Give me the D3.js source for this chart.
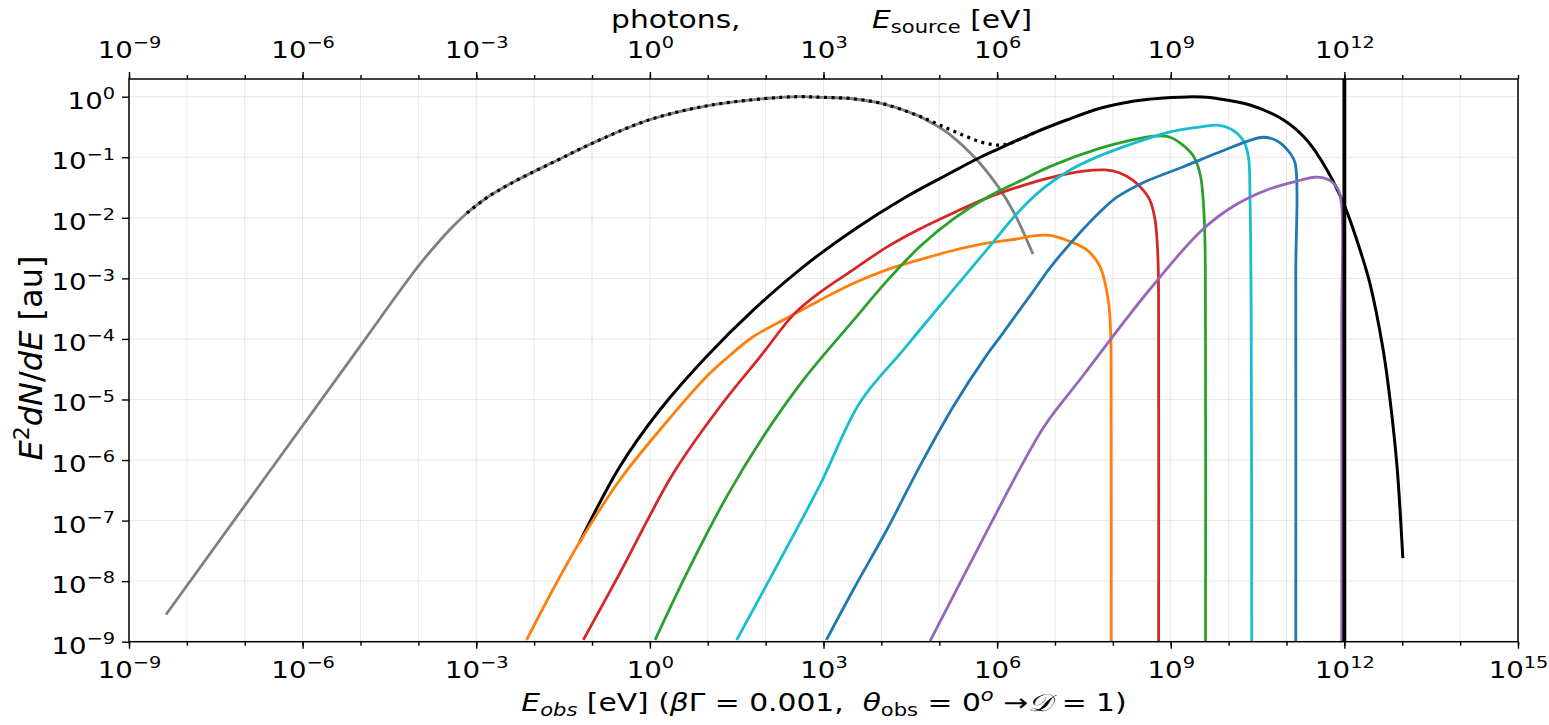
<!DOCTYPE html>
<html>
<head>
<meta charset="utf-8">
<script src="https://cdn.jsdelivr.net/npm/d3@7"></script>
<style>
  body { margin: 0; background: #fff; }
  text { font-family: "DejaVu Sans", sans-serif; fill: #000; }
</style>
</head>
<body>
<svg id="chart" width="1549" height="725"></svg>
<script>
// every point is [log10 E (eV), log10 E^2 dN/dE (au)]

// photons at the source (grey) and their sum with the cascade (black dotted)
const photonsSource = [[-8.36,-8.55],[-5.0,-4.11],[-4.3,-3.18],[-3.97,-2.76],[-3.67,-2.42],[-3.40,-2.14],
  [-3.16,-1.92],[-2.88,-1.71],[-2.62,-1.55],[-2.24,-1.35],[-1.6,-1.05],[-1.02,-0.78],[-0.02,-0.385],
  [0.99,-0.15],[2.0,-0.03],[2.57,0.0],[2.97,-0.01],[3.46,-0.03],[4.0,-0.11],[4.6,-0.30],[4.9,-0.45],
  [5.19,-0.63],[5.61,-1.0],[6.02,-1.49],[6.30,-1.93],[6.62,-2.60]];
const photonsTotal = [[-3.16,-1.92],[-2.88,-1.71],[-2.62,-1.55],[-2.24,-1.35],[-1.6,-1.05],[-1.02,-0.78],
  [-0.02,-0.385],[0.99,-0.15],[2.0,-0.03],[2.57,0.0],[2.97,-0.01],[3.46,-0.03],[4.0,-0.11],[4.6,-0.30],
  [4.9,-0.42],[5.18,-0.54],[5.45,-0.65],[5.73,-0.75],[6.0,-0.80],[6.2,-0.78],[6.35,-0.72],[6.48,-0.67],
  [6.63,-0.60]];
// total cascade
const cascadeTotal = [[-1.21,-7.35],[-0.52,-6.11],[0.175,-5.17],[0.98,-4.29],[1.79,-3.52],[2.65,-2.81],
  [3.52,-2.20],[4.38,-1.68],[5.19,-1.26],[5.71,-1.0],[6.05,-0.85],[6.63,-0.60],[7.20,-0.385],[7.78,-0.19],
  [8.35,-0.075],[8.64,-0.04],[9.01,-0.012],[9.28,-0.003],[9.55,-0.006],[9.80,-0.03],[10.37,-0.137],
  [10.95,-0.385],[11.35,-0.715],[11.70,-1.21],[12.01,-1.82],[12.27,-2.53],[12.44,-3.08],[12.67,-4.18],
  [12.79,-5.01],[12.91,-6.11],[13.01,-7.62]];
// cascade generations
const genOrange = [[-2.13,-8.97],[-1.67,-8.13],[-1.21,-7.35],[-0.52,-6.33],[0.175,-5.50],[0.98,-4.62],
  [1.385,-4.27],[1.79,-3.96],[2.36,-3.66],[2.94,-3.36],[3.52,-3.08],[4.09,-2.86],[4.67,-2.69],[5.24,-2.54],
  [5.82,-2.42],[6.40,-2.34],[6.62,-2.30],[6.91,-2.29],[7.20,-2.37],[7.55,-2.53],[7.78,-2.81],[7.92,-3.36],
  [7.96,-3.85],[7.97,-5.22],[7.97,-9.5]];
const genRed = [[-1.15,-8.97],[-0.52,-7.87],[0.405,-6.22],[1.21,-5.12],[1.90,-4.30],[2.51,-3.57],
  [2.94,-3.23],[3.51,-2.86],[4.10,-2.48],[4.67,-2.18],[5.24,-1.92],[5.83,-1.67],[6.40,-1.48],[6.91,-1.34],
  [7.49,-1.23],[7.87,-1.21],[8.12,-1.26],[8.35,-1.38],[8.52,-1.54],[8.64,-1.71],[8.73,-2.04],[8.78,-2.70],
  [8.79,-3.69],[8.79,-9.5]];
const genGreen = [[0.09,-8.97],[0.637,-7.87],[1.33,-6.60],[1.96,-5.61],[2.65,-4.68],[3.52,-3.69],
  [4.09,-3.05],[4.67,-2.47],[5.24,-2.02],[5.83,-1.66],[6.40,-1.39],[6.92,-1.15],[7.78,-0.85],[8.30,-0.72],
  [8.73,-0.65],[8.99,-0.67],[9.21,-0.80],[9.39,-0.98],[9.51,-1.29],[9.58,-2.04],[9.60,-3.69],[9.60,-9.5]];
const genCyan = [[1.50,-8.97],[2.08,-7.95],[2.94,-6.41],[3.63,-5.05],[4.38,-4.18],[5.24,-3.19],
  [5.82,-2.53],[6.40,-1.87],[6.83,-1.49],[7.26,-1.21],[7.69,-1.01],[8.12,-0.85],[8.64,-0.68],[8.99,-0.58],
  [9.51,-0.50],[9.80,-0.47],[10.03,-0.53],[10.25,-0.72],[10.34,-0.98],[10.37,-1.71],[10.39,-3.69],
  [10.40,-9.5]];
const genBlue = [[3.05,-8.97],[3.51,-8.15],[4.09,-7.16],[4.66,-6.11],[5.24,-5.12],[5.81,-4.28],[6.05,-3.97],
  [6.39,-3.52],[6.62,-3.22],[6.91,-2.83],[7.38,-2.30],[7.78,-1.90],[8.07,-1.66],[8.52,-1.42],[9.21,-1.16],
  [9.80,-0.93],[10.37,-0.72],[10.60,-0.67],[10.84,-0.73],[11.06,-0.93],[11.15,-1.10],[11.16,-3.0],
  [11.16,-9.5]];
const genPurple = [[4.84,-8.99],[5.36,-8.03],[5.88,-7.07],[6.40,-6.13],[6.83,-5.42],[7.49,-4.60],
  [8.07,-3.87],[8.64,-3.18],[9.51,-2.23],[10.08,-1.81],[10.66,-1.54],[11.24,-1.38],[11.49,-1.33],
  [11.70,-1.36],[11.88,-1.51],[11.95,-1.76],[11.955,-3.69],[11.955,-9.5]];

const generations = [genOrange, genRed, genGreen, genCyan, genBlue, genPurple];
const generationColors = ["#ff7f0e", "#d62728", "#2ca02c", "#17becf", "#1f77b4", "#9467bd"];

const cutoffEnergy = 1e12;              // vertical line
const xMajor = [-9, -6, -3, 0, 3, 6, 9, 12, 15];
const xMajorTop = [-9, -6, -3, 0, 3, 6, 9, 12];
const xMinor = d3.range(-9, 16);
const yMajor = d3.range(-9, 1);

const svg = d3.select("#chart");
const pL = 129, pR = 1518, pT = 79, pB = 641.7;
const sx = 1.2;                         // the figure is a bit wider than tall

const x = d3.scaleLog().domain([1e-9, 1e15]).range([pL, pR]);
const y = d3.scaleLog().domain([1e-9, 1.96]).range([pB, pT]);

const toVal = s => s.map(d => [Math.pow(10, d[0]), Math.pow(10, d[1])]);

// grid
const grid = svg.append("g").attr("stroke", "#b0b0b0").attr("stroke-opacity", 0.3).attr("stroke-width", 1);
grid.selectAll(".gx").data(xMinor).join("line")
  .attr("x1", d => x(Math.pow(10, d))).attr("x2", d => x(Math.pow(10, d)))
  .attr("y1", pT).attr("y2", pB);
grid.selectAll(".gy").data(yMajor).join("line")
  .attr("y1", d => y(Math.pow(10, d))).attr("y2", d => y(Math.pow(10, d)))
  .attr("x1", pL).attr("x2", pR);

svg.append("clipPath").attr("id", "plotclip").append("rect")
  .attr("x", pL).attr("y", pT).attr("width", pR - pL).attr("height", pB - pT);

const plot = svg.append("g").attr("clip-path", "url(#plotclip)").attr("fill", "none")
  .attr("stroke-linejoin", "round");
const line = d3.line().x(d => x(d[0])).y(d => y(d[1])).curve(d3.curveCatmullRom.alpha(0.5));

plot.append("path").attr("d", line(toVal(photonsSource)))
  .attr("stroke", "#808080").attr("stroke-width", 2.8);
plot.append("path").attr("d", line(toVal(cascadeTotal)))
  .attr("stroke", "#000").attr("stroke-width", 3);
generations.forEach((s, i) => {
  plot.append("path").attr("d", line(toVal(s)))
    .attr("stroke", generationColors[i]).attr("stroke-width", 2.8);
});
plot.append("path").attr("d", line(toVal(photonsTotal)))
  .attr("stroke", "#000").attr("stroke-width", 3.2).attr("stroke-dasharray", "3,4.5");
plot.append("line")
  .attr("x1", x(cutoffEnergy)).attr("x2", x(cutoffEnergy)).attr("y1", pT).attr("y2", pB)
  .attr("stroke", "#000").attr("stroke-width", 3.8);

// axes
const fs = 23;
function powLabels(sel) {
  sel.each(function(d) {
    const e = Math.round(Math.log10(d));
    const t = d3.select(this).text(null);
    t.append("tspan").text("10");
    t.append("tspan").attr("font-size", fs * 0.7).attr("dy", -fs * 0.42)
      .text(e < 0 ? "\u2212" + (-e) : String(e));
  });
}
function styleAxis(g) {
  g.select(".domain").remove();
  g.selectAll(".tick line").attr("stroke", "#000").attr("stroke-width", 1.4);
  g.selectAll(".tick text").attr("font-size", fs).attr("font-family", "DejaVu Sans").attr("fill", "#000")
    .attr("transform", `scale(${sx},1)`);
}
const p10 = a => a.map(e => Math.pow(10, e));

svg.append("g").attr("transform", `translate(0,${pB})`)
  .call(d3.axisBottom(x).tickValues(p10(xMinor)).tickSize(4).tickFormat(""))
  .call(styleAxis);
svg.append("g").attr("transform", `translate(0,${pB})`)
  .call(d3.axisBottom(x).tickValues(p10(xMajor)).tickSize(7))
  .call(styleAxis)
  .call(g => g.selectAll(".tick text").attr("y", 0).attr("dy", 36).call(powLabels));

svg.append("g").attr("transform", `translate(0,${pT})`)
  .call(d3.axisTop(x).tickValues(p10(xMinor)).tickSize(4).tickFormat(""))
  .call(styleAxis);
svg.append("g").attr("transform", `translate(0,${pT})`)
  .call(d3.axisTop(x).tickValues(p10(xMajorTop)).tickSize(7))
  .call(styleAxis)
  .call(g => g.selectAll(".tick text").attr("y", -21).attr("dy", 0).call(powLabels));

svg.append("g").attr("transform", `translate(${pL},0)`)
  .call(d3.axisLeft(y).tickValues(p10(yMajor)).tickSize(7))
  .call(styleAxis)
  .call(g => g.selectAll(".tick text").attr("x", -14 / sx).attr("dy", 11.5).call(powLabels));

svg.append("rect").attr("x", pL).attr("y", pT).attr("width", pR - pL).attr("height", pB - pT)
  .attr("fill", "none").attr("stroke", "#000").attr("stroke-width", 1.5);

// axis titles
const lf = 24, sf = 17, lsx = 1.24;
const xl = svg.append("text").attr("transform", `translate(824,711) scale(${lsx},1)`)
  .attr("text-anchor", "middle").attr("font-size", lf).style("white-space", "pre");
xl.append("tspan").attr("font-style", "italic").text("E");
xl.append("tspan").attr("font-style", "italic").attr("font-size", sf).attr("dy", 5).text("obs");
xl.append("tspan").attr("dy", -5).text(" [eV] (");
xl.append("tspan").attr("font-style", "italic").text("β");
xl.append("tspan").text("Γ = 0.001,  ");
xl.append("tspan").attr("font-style", "italic").text("θ");
xl.append("tspan").attr("font-size", sf).attr("dy", 5).text("obs");
xl.append("tspan").attr("dy", -5).text(" = 0");
xl.append("tspan").attr("font-style", "italic").attr("font-size", sf).attr("dy", -10).text("o");
xl.append("tspan").attr("dy", 10).text(" \u2192");
xl.append("tspan").attr("font-style", "italic").text("\uD835\uDC9F");
xl.append("tspan").text(" = 1)");

const yl = svg.append("text").attr("transform", "translate(42,358) rotate(-90)")
  .attr("text-anchor", "middle").attr("font-size", 32);
yl.append("tspan").attr("font-style", "italic").text("E");
yl.append("tspan").attr("font-size", 22).attr("dy", -13).text("2");
yl.append("tspan").attr("font-style", "italic").attr("dy", 13).text("dN");
yl.append("tspan").text("/");
yl.append("tspan").attr("font-style", "italic").text("dE");
yl.append("tspan").text(" [au]");

svg.append("text").attr("transform", `translate(611,28) scale(${lsx},1)`).attr("font-size", lf)
  .text("photons,");
const tl = svg.append("text").attr("transform", `translate(872,28) scale(${lsx},1)`).attr("font-size", lf);
tl.append("tspan").attr("font-style", "italic").text("E");
tl.append("tspan").attr("font-size", sf).attr("dy", 5).text("source");
tl.append("tspan").attr("dy", -5).text(" [eV]");
</script>
</body>
</html>
